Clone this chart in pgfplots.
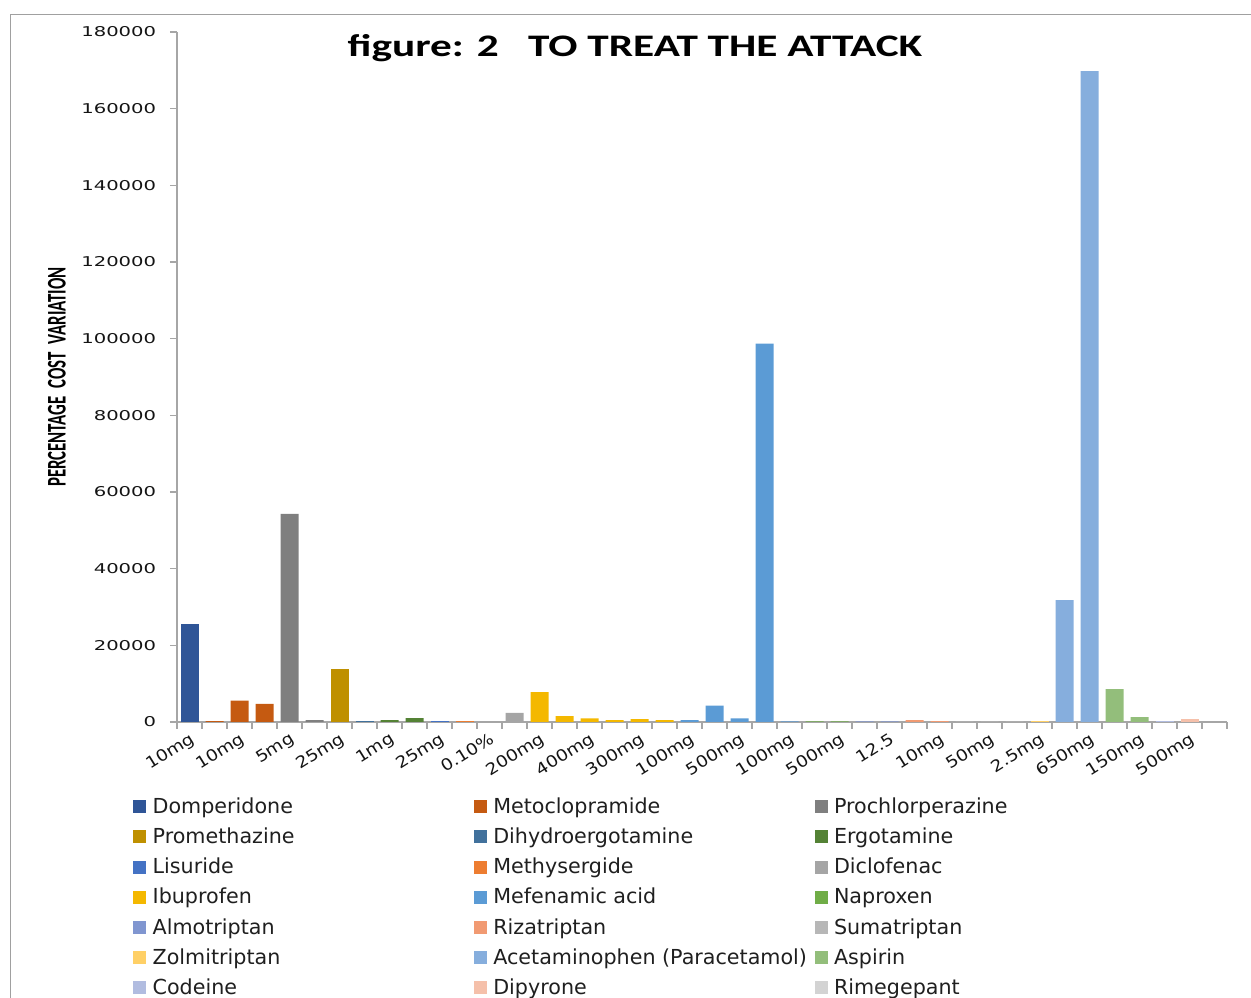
\documentclass[border=0pt]{standalone}
\usepackage{graphicx}
\usepackage{pgfplots}
\pgfplotsset{compat=1.18}
\usepackage{fontspec}
\setmainfont{DejaVu Sans}
\newfontfamily\tickfont[FakeStretch=1.45]{DejaVu Sans}
\newfontfamily\xtickfont[FakeStretch=1.15]{DejaVu Sans}
\newfontfamily\titlefont[FakeStretch=1.38]{Carlito}
\newfontfamily\ylabfont{Carlito}
\definecolor{axisgray}{HTML}{A6A6A6}
\definecolor{framegray}{HTML}{A0A0A0}
\definecolor{c1}{HTML}{2F5597}
\definecolor{c2}{HTML}{C55A11}
\definecolor{c3}{HTML}{7F7F7F}
\definecolor{c4}{HTML}{BF9000}
\definecolor{c5}{HTML}{41719C}
\definecolor{c6}{HTML}{548235}
\definecolor{c7}{HTML}{4472C4}
\definecolor{c8}{HTML}{ED7D31}
\definecolor{c9}{HTML}{A5A5A5}
\definecolor{c10}{HTML}{F4B800}
\definecolor{c11}{HTML}{5B9BD5}
\definecolor{c12}{HTML}{70AD47}
\definecolor{c13}{HTML}{8096D0}
\definecolor{c14}{HTML}{F19A72}
\definecolor{c15}{HTML}{B7B7B7}
\definecolor{c16}{HTML}{FFD066}
\definecolor{c17}{HTML}{86AEDD}
\definecolor{c18}{HTML}{93BE7B}
\definecolor{c19}{HTML}{B1BCE0}
\definecolor{c20}{HTML}{F5C0AA}
\definecolor{c21}{HTML}{D3D3D3}
\pgfplotsset{
  sqlegend/.style={legend image code/.code={\fill[##1] (0pt,-3.9pt) rectangle (7.8pt,3.9pt);}},
  mybar/.style={fill=#1, draw=none, bar shift=0pt, sqlegend},
}
\newcommand{\legent}[1]{\makebox[192.6pt][l]{\hspace{1.8pt}#1}}
\begin{document}
\begin{tikzpicture}
\path[use as bounding box] (0,0) rectangle (750.6pt,598.8pt);
\draw[framegray, line width=0.6pt] (6pt,0) -- (6pt,589.8pt) -- (750.6pt,589.8pt);
\node[text=black] at (381pt,570pt) {\titlefont\bfseries\fontsize{18.8}{22}\selectfont figure: 2\ \ \ TO TREAT THE ATTACK};
\node[rotate=90, text=black] at (34.2pt,372.6pt) {\scalebox{1}[1.6]{\ylabfont\bfseries\fontsize{10.1}{12}\selectfont PERCENTAGE\ \ COST\ \ VARIATION}};
\begin{axis}[
  at={(106.2pt,165.6pt)}, anchor=south west,
  scale only axis, width=630pt, height=414pt,
  xmin=-0.5, xmax=41.5, ymin=0, ymax=180000,
  axis x line*=bottom, axis y line*=left,
  axis line style={draw=axisgray, line width=0.8pt},
  ybar, bar width=10.8pt,
  tick align=outside, major tick length=4.2pt, minor tick length=4.2pt,
  tick style={draw=axisgray, line width=0.8pt},
  ytick={0,20000,40000,60000,80000,100000,120000,140000,160000,180000},
  scaled y ticks=false,
  yticklabels={0,20000,40000,60000,80000,100000,120000,140000,160000,180000},
  yticklabel style={font=\tickfont\fontsize{8.1}{9}\selectfont, text=black!92, xshift=-4.8pt},
  xtick={0,1,2,3,4,5,6,7,8,9,10,11,12,13,14,15,16,17,18,19,20,21,22,23,24,25,26,27,28,29,30,31,32,33,34,35,36,37,38,39,40,41},
  minor xtick={-0.5,0.5,1.5,2.5,3.5,4.5,5.5,6.5,7.5,8.5,9.5,10.5,11.5,12.5,13.5,14.5,15.5,16.5,17.5,18.5,19.5,20.5,21.5,22.5,23.5,24.5,25.5,26.5,27.5,28.5,29.5,30.5,31.5,32.5,33.5,34.5,35.5,36.5,37.5,38.5,39.5,40.5,41.5},
  major x tick style={draw=none},
  xticklabels={10mg,{},10mg,{},5mg,{},25mg,{},1mg,{},25mg,{},0.10\%,{},200mg,{},400mg,{},300mg,{},100mg,{},500mg,{},100mg,{},500mg,{},12.5,{},10mg,{},50mg,{},2.5mg,{},650mg,{},150mg,{},500mg,{}},
  xticklabel style={font=\xtickfont\fontsize{9.6}{10}\selectfont, text=black!92, rotate=32, anchor=north east, inner sep=1pt},
  legend columns=3,
  legend cell align=left,
  legend style={at={(-0.0419,-0.1043)}, anchor=north west, draw=none, fill=none, inner sep=0pt, column sep=0pt, row sep=3.2pt, font=\fontsize{12.4}{14}\selectfont, text=black!88},
]
\addplot[mybar=c1] coordinates {(0,25600)}; \addlegendentry{\legent{Domperidone}}
\addplot[mybar=c2] coordinates {(1,200) (2,5550) (3,4700)}; \addlegendentry{\legent{Metoclopramide}}
\addplot[mybar=c3] coordinates {(4,54300) (5,500)}; \addlegendentry{\legent{Prochlorperazine}}
\addplot[mybar=c4] coordinates {(6,13900)}; \addlegendentry{\legent{Promethazine}}
\addplot[mybar=c5] coordinates {(7,150)}; \addlegendentry{\legent{Dihydroergotamine}}
\addplot[mybar=c6] coordinates {(8,500) (9,1000)}; \addlegendentry{\legent{Ergotamine}}
\addplot[mybar=c7] coordinates {(10,150)}; \addlegendentry{\legent{Lisuride}}
\addplot[mybar=c8] coordinates {(11,150)}; \addlegendentry{\legent{Methysergide}}
\addplot[mybar=c9] coordinates {(12,120) (13,2350)}; \addlegendentry{\legent{Diclofenac}}
\addplot[mybar=c10] coordinates {(14,7800) (15,1550) (16,950) (17,500) (18,750) (19,500)}; \addlegendentry{\legent{Ibuprofen}}
\addplot[mybar=c11] coordinates {(20,500) (21,4300) (22,950) (23,98700) (24,150)}; \addlegendentry{\legent{Mefenamic acid}}
\addplot[mybar=c12] coordinates {(25,150) (26,150)}; \addlegendentry{\legent{Naproxen}}
\addplot[mybar=c13] coordinates {(27,150) (28,150)}; \addlegendentry{\legent{Almotriptan}}
\addplot[mybar=c14] coordinates {(29,500) (30,200)}; \addlegendentry{\legent{Rizatriptan}}
\addplot[mybar=c15] coordinates {(31,100) (32,100) (33,100)}; \addlegendentry{\legent{Sumatriptan}}
\addplot[mybar=c16] coordinates {(34,150)}; \addlegendentry{\legent{Zolmitriptan}}
\addplot[mybar=c17] coordinates {(35,31800) (36,169800)}; \addlegendentry{\legent{Acetaminophen (Paracetamol)}}
\addplot[mybar=c18] coordinates {(37,8600) (38,1300)}; \addlegendentry{\legent{Aspirin}}
\addplot[mybar=c19] coordinates {(39,150)}; \addlegendentry{\legent{Codeine}}
\addplot[mybar=c20] coordinates {(40,750)}; \addlegendentry{\legent{Dipyrone}}
\addplot[mybar=c21] coordinates {(41,100)}; \addlegendentry{\legent{Rimegepant}}
\end{axis}
\end{tikzpicture}
\end{document}
